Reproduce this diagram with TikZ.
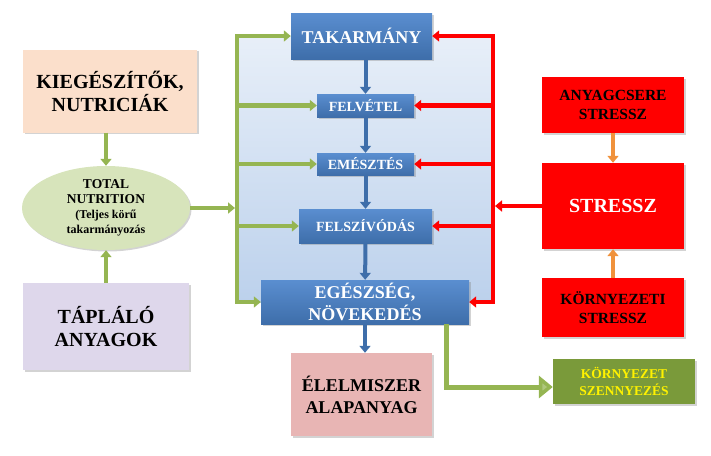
\documentclass[tikz,border=0pt]{standalone}
\usepackage{fontspec}
\setmainfont{Liberation Serif}
\usetikzlibrary{arrows.meta,shapes.geometric,shadows}

\begin{document}
\begin{tikzpicture}[x=1pt,y=-1pt]

\definecolor{feed_blue}{HTML}{5A8ED0}
\definecolor{feed_dblue}{HTML}{3E6EAA}
\definecolor{panel_blue}{HTML}{BCD1EC}
\definecolor{leaf_green}{HTML}{95B552}
\definecolor{olive_green}{HTML}{7A9A3A}
\definecolor{stress_red}{HTML}{FF0000}
\definecolor{stress_orange}{HTML}{F0923C}
\definecolor{peach}{HTML}{FBDFCB}
\definecolor{lavender}{HTML}{DED7EB}
\definecolor{salmon}{HTML}{E8B5B4}
\definecolor{pale_green}{HTML}{D7E4BB}

\tikzset{
  box/.style={align=center, inner sep=0pt, font=\bfseries,
    drop shadow={opacity=0.35, shadow xshift=1.5pt, shadow yshift=-1.5pt}},
  bluebox/.style={box, top color=feed_blue, bottom color=feed_dblue, text=white},
  redbox/.style={box, fill=stress_red},
  blarrow/.style={draw=feed_dblue, line width=4pt, -{Triangle[length=7pt,width=11pt]}},
  grline/.style={draw=leaf_green, line width=4.5pt, line cap=rect},
  grarrow/.style={draw=leaf_green, line width=4.5pt, -{Triangle[length=7pt,width=11pt]}},
  rdline/.style={draw=stress_red, line width=4.5pt, line cap=rect},
  rdarrow/.style={draw=stress_red, line width=4.5pt, -{Triangle[length=7pt,width=11pt]}},
  orarrow/.style={draw=stress_orange, line width=4pt, -{Triangle[length=7pt,width=11pt]}},
}

\useasboundingbox (0,0) rectangle (711,455);

\coordinate (gx) at (237,0);
\coordinate (rx) at (493,0);
\coordinate (bend) at (446,387);

% background panel
\fill[top color=panel_blue!35, bottom color=panel_blue] (237,36) rectangle (493,302);

% left column
\node[box, fill=peach, minimum width=174pt, minimum height=83pt,
  font=\bfseries\fontsize{20}{23}\selectfont] (kieg) at (110,91) {KIEGÉSZÍTŐK,\\NUTRICIÁK};
\node[box, ellipse, fill=pale_green, minimum width=168pt, minimum height=84pt,
  font=\bfseries\fontsize{13.5}{15}\selectfont] (tot) at (106,208)
  {TOTAL\\NUTRITION\\{\fontsize{12}{15}\selectfont (Teljes körű}\\{\fontsize{12}{15}\selectfont takarmányozás}};
\node[box, fill=lavender, minimum width=166pt, minimum height=87pt,
  font=\bfseries\fontsize{20}{23}\selectfont] (tapl) at (106,326.5) {TÁPLÁLÓ\\ANYAGOK};

% centre column
\node[bluebox, minimum width=141pt, minimum height=46pt,
  font=\bfseries\fontsize{18}{22}\selectfont] (tak) at (361.5,36) {TAKARMÁNY};
\node[bluebox, minimum width=97pt, minimum height=23pt,
  font=\bfseries\fontsize{14}{16}\selectfont] (felv) at (365.5,105.5) {FELVÉTEL};
\node[bluebox, minimum width=97pt, minimum height=22pt,
  font=\bfseries\fontsize{14}{16}\selectfont] (emes) at (365.5,164) {EMÉSZTÉS};
\node[bluebox, minimum width=133pt, minimum height=34pt,
  font=\bfseries\fontsize{14}{16}\selectfont] (felsz) at (365.5,226) {FELSZÍVÓDÁS};
\node[bluebox, minimum width=208pt, minimum height=44pt,
  font=\bfseries\fontsize{18}{22}\selectfont] (egesz) at (365,302) {EGÉSZSÉG,\\NÖVEKEDÉS};
\node[box, fill=salmon, minimum width=141pt, minimum height=83pt,
  font=\bfseries\fontsize{18}{22}\selectfont] (elel) at (361.5,394.5) {ÉLELMISZER\\ALAPANYAG};

% right column
\node[redbox, minimum width=142pt, minimum height=56pt,
  font=\bfseries\fontsize{15.5}{19}\selectfont] (anyag) at (613,105) {ANYAGCSERE\\STRESSZ};
\node[redbox, minimum width=142pt, minimum height=86pt, text=white,
  font=\bfseries\fontsize{20}{23}\selectfont] (stressz) at (613,206) {STRESSZ};
\node[redbox, minimum width=142pt, minimum height=59pt,
  font=\bfseries\fontsize{15.5}{19}\selectfont] (korny) at (613,307.5) {KÖRNYEZETI\\STRESSZ};
\node[box, fill=olive_green, minimum width=142pt, minimum height=45pt, text=yellow,
  font=\bfseries\fontsize{13.5}{17}\selectfont] (szenny) at (624,381.5) {KÖRNYEZET\\SZENNYEZÉS};

% blue chain
\draw[blarrow] (felv.north |- tak.south) -- (felv.north);
\draw[blarrow] (felv) -- (emes);
\draw[blarrow] (emes) -- (felsz);
\draw[blarrow] (felsz) -- (egesz);
\draw[blarrow] (egesz.south) -- (egesz.south |- elel.north);

% green feed lines
\draw[grline] (gx |- tak.west) -- (gx |- egesz.west);
\foreach \n in {tak,felv,emes,felsz,egesz}
  \draw[grarrow] (gx |- \n.west) -- (\n.west);
\draw[grarrow, shorten >=2pt] (tot.east) -- (tot.east -| gx);
\draw[grarrow] (tot.north |- kieg.south) -- (tot.north);
\draw[grarrow] (tot.south |- tapl.north) -- (tot.south);

% red stress lines
\draw[rdline] (rx |- tak.east) -- (rx |- egesz.east);
\foreach \n in {tak,felv,emes,felsz,egesz}
  \draw[rdarrow] (rx |- \n.east) -- (\n.east);
\draw[rdarrow, shorten >=2pt] (stressz.west) -- (stressz.west -| rx);
\draw[orarrow] (anyag) -- (stressz);
\draw[orarrow] (korny) -- (stressz);

% pollution
\draw[draw=leaf_green, line width=5pt,
  -{Triangle[length=14pt,width=22pt,fill=leaf_green!75]}]
  (egesz.south -| bend) -- (bend) -- (bend -| szenny.west);

\end{tikzpicture}
\end{document}
